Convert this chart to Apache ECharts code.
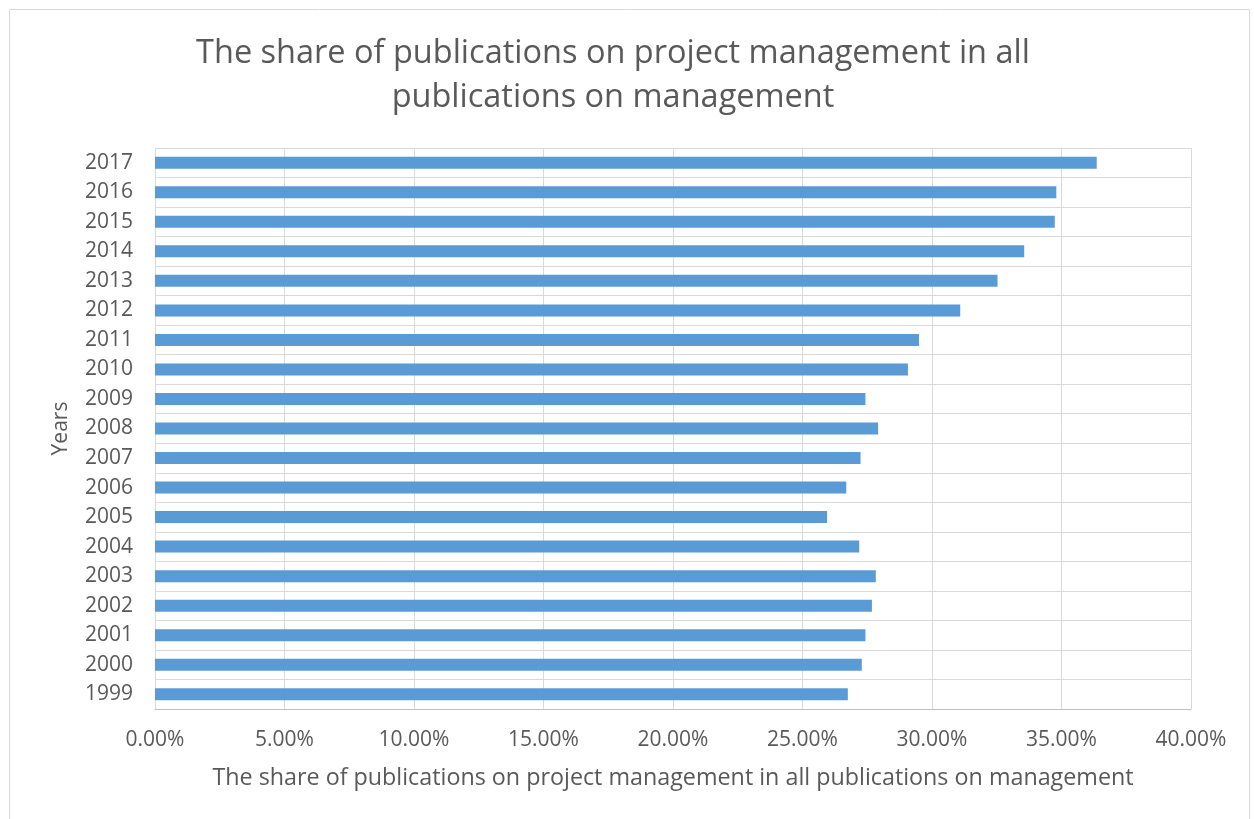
<!DOCTYPE html>
<html><head><meta charset="utf-8">
<script src="https://cdn.jsdelivr.net/npm/echarts@6/dist/echarts.min.js"></script>
<style>html,body{margin:0;padding:0;background:#fff}#c{width:1254px;height:819px}</style>
</head><body><div id="c"></div>
<script>
const years = ['1999','2000','2001','2002','2003','2004','2005','2006','2007','2008','2009','2010','2011','2012','2013','2014','2015','2016','2017'];
const shares = [26.75,27.29,27.43,27.68,27.83,27.19,25.95,26.69,27.24,27.92,27.43,29.07,29.50,31.09,32.53,33.56,34.74,34.80,36.36];
const xTicks = [0,5,10,15,20,25,30,35,40];
const titleText = 'The share of publications on project management in all\npublications on management';
const xName = 'The share of publications on project management in all publications on management';
const yName = 'Years';
const FONT = 'Open Sans';
const chart = echarts.init(document.getElementById('c'), null, {renderer:'canvas'});
chart.setOption({
  animation:false,
  graphic:[{type:'rect',shape:{x:9.5,y:9.5,width:1240,height:820},style:{fill:'none',stroke:'#d9d9d9',lineWidth:1}}],
  title:{text:titleText,left:608,top:27,textAlign:'center',
    textStyle:{fontFamily:FONT,fontSize:32.5,fontWeight:'normal',color:'#595959',lineHeight:44}},
  grid:{left:155,right:63,top:148,bottom:110,containLabel:false},
  xAxis:{type:'value',min:0,max:40,interval:5,
    name:xName,nameLocation:'middle',nameGap:58,
    nameTextStyle:{fontFamily:FONT,fontSize:23.3,color:'#595959'},
    axisLine:{show:true,lineStyle:{color:'#bfbfbf'}},axisTick:{show:false},
    axisLabel:{fontFamily:FONT,fontSize:21,color:'#595959',margin:21,formatter:v=>v.toFixed(2)+'%'},
    splitLine:{lineStyle:{color:'#d9d9d9'}}},
  yAxis:{type:'category',data:years,
    name:yName,nameLocation:'middle',nameGap:83,nameRotate:90,
    nameTextStyle:{fontFamily:FONT,fontSize:21,color:'#595959'},
    axisLine:{show:true,lineStyle:{color:'#d9d9d9'}},axisTick:{show:false},
    axisLabel:{fontFamily:FONT,fontSize:21,color:'#595959',margin:22},
    splitLine:{show:true,lineStyle:{color:'#d9d9d9'}}},
  series:[{type:'bar',data:shares,barWidth:12,itemStyle:{color:'#5b9bd5'}}]
});
</script></body></html>
